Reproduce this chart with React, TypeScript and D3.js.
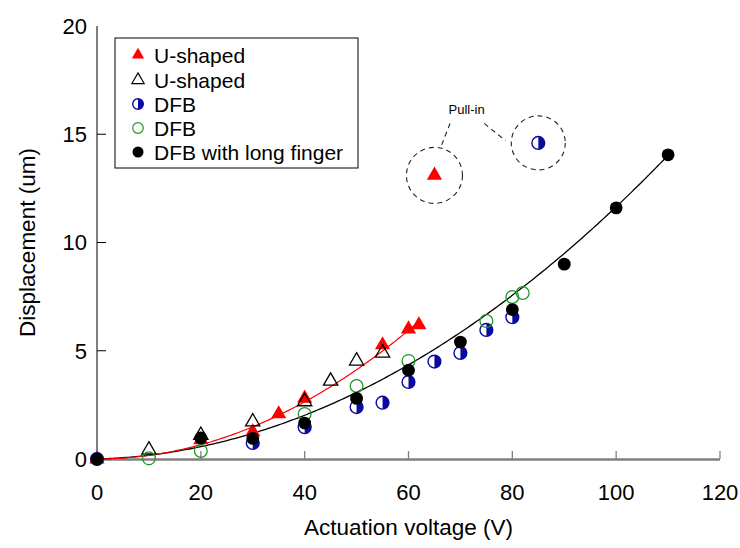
import React from "react";
import * as d3 from "d3";

// ---------- data ----------
const uShapedRedX = [0, 20, 30, 35, 40, 55, 60, 62];
const uShapedRedY = [0, 0.88, 1.25, 2.08, 2.8, 5.27, 6.0, 6.19];
const uShapedRedPullIn = [65, 13.1];

const uShapedOpenX = [10, 20, 30, 40, 45, 50, 55];
const uShapedOpenY = [0.42, 1.1, 1.72, 2.65, 3.6, 4.53, 4.9];

const dfbHalfX = [0, 30, 40, 50, 55, 60, 65, 70, 75, 80];
const dfbHalfY = [0, 0.74, 1.47, 2.4, 2.6, 3.56, 4.5, 4.9, 5.96, 6.55];
const dfbHalfPullIn = [85, 14.6];

const dfbOpenX = [10, 20, 40, 50, 60, 75, 80, 82];
const dfbOpenY = [0.03, 0.37, 2.08, 3.37, 4.53, 6.37, 7.48, 7.67];

const longFingerX = [0, 20, 30, 40, 50, 60, 70, 80, 90, 100, 110];
const longFingerY = [0, 0.97, 0.95, 1.66, 2.8, 4.1, 5.4, 6.9, 9.0, 11.6, 14.05];

// fitted curves: y = a*x^2 + b*x over [x0, x1]
const redFit = [0.00165, 0.0, 0, 62];
const blackFit = [0.0011, 0.0065, 0, 110];

const xTicks = [0, 20, 40, 60, 80, 100, 120];
const yTicks = [0, 5, 10, 15, 20];
const legendLabels = ["U-shaped", "U-shaped", "DFB", "DFB", "DFB with long finger"];

// pull-in annotation (data coords): label position, leader lines [x1,y1,x2,y2]
const pullInLabel = [71.2, 15.93];
const leader1 = [68.0, 15.5, 66.2, 14.4];
const leader2 = [74.6, 15.5, 78.7, 14.7];

const FONT = "'Liberation Sans', Arial, sans-serif";
const RED = "#ff0000";
const BLUE = "#0a0aa0";
const GREEN = "#22992a";

const W = 740;
const H = 548;
const x = d3.scaleLinear().domain([0, 120]).range([97, 720]);
const y = d3.scaleLinear().domain([0, 20]).range([459, 26]);

const tri = (size: number) => d3.symbol().type(d3.symbolTriangle).size(size)()!;

function HalfCircle({ cx, cy, r }: { cx: number; cy: number; r: number }) {
  const arc = d3.arc()({ innerRadius: 0, outerRadius: r, startAngle: 0, endAngle: Math.PI })!;
  return (
    <g transform={`translate(${cx},${cy})`}>
      <circle r={r} fill="white" stroke={BLUE} strokeWidth={1.4} />
      <path d={arc} fill={BLUE} />
    </g>
  );
}

function fitPath(f: number[]) {
  const [a, b, x0, x1] = f;
  const pts = d3.range(x0, x1 + 0.001, 0.5).map((v) => [v, a * v * v + b * v] as [number, number]);
  return d3
    .line<[number, number]>()
    .x((d) => x(d[0]))
    .y((d) => y(d[1]))
    .curve(d3.curveLinear)(pts)!;
}

export default function App() {
  const redTri = tri(100);
  const openTri = tri(88);
  const legTri = tri(66);
  const r = 6.4;

  const pairs = (xs: number[], ys: number[]) => xs.map((v, i) => [v, ys[i]]);

  // legend
  const lgX = 115, lgY = 38, lgW = 243, lgH = 130;
  const rowY = [55, 80, 104, 128, 152];

  const c1 = [x(uShapedRedPullIn[0]), y(uShapedRedPullIn[1])];
  const c2 = [x(dfbHalfPullIn[0]), y(dfbHalfPullIn[1])];

  return (
    <svg
      width={W}
      height={H}
      style={{ position: "absolute", left: 0, top: 0, background: "white" }}
      fontFamily={FONT}
    >
      <rect width={W} height={H} fill="white" />

      {/* axes */}
      <line x1={x(0)} x2={x(0)} y1={y(0)} y2={y(20)} stroke="black" strokeWidth={1} />
      {yTicks.map((t) => (
        <g key={"yt" + t}>
          {t > 0 && t < 20 && (
            <line x1={x(0)} x2={x(0) + 9} y1={y(t)} y2={y(t)} stroke="black" strokeWidth={1} />
          )}
          <text x={87} y={y(t)} dy="0.36em" textAnchor="end" fontSize={22}>
            {t}
          </text>
        </g>
      ))}
      <line x1={x(0)} x2={x(120)} y1={y(0) + 0.5} y2={y(0) + 0.5} stroke="#808080" strokeWidth={2.5} />
      {xTicks.map((t) => (
        <g key={"xt" + t}>
          {t > 0 && (
            <line x1={x(t)} x2={x(t)} y1={y(0)} y2={y(0) - 8} stroke="#808080" strokeWidth={1.3} />
          )}
          <text x={x(t)} y={500} textAnchor="middle" fontSize={22}>
            {t}
          </text>
        </g>
      ))}
      <text x={(x(0) + x(120)) / 2} y={535} textAnchor="middle" fontSize={22.5}>
        Actuation voltage (V)
      </text>
      <text
        transform={`translate(35,${(y(0) + y(20)) / 2}) rotate(-90)`}
        textAnchor="middle"
        fontSize={22.5}
      >
        Displacement (um)
      </text>

      {/* fit curves */}
      <path d={fitPath(blackFit)} fill="none" stroke="black" strokeWidth={1.3} />
      <path d={fitPath(redFit)} fill="none" stroke={RED} strokeWidth={1.2} />

      {/* markers */}
      {pairs(uShapedRedX, uShapedRedY).map(([a, b], i) => (
        <path key={"rt" + i} d={redTri} transform={`translate(${x(a)},${y(b)})`} fill={RED} />
      ))}
      {pairs(uShapedOpenX, uShapedOpenY).map(([a, b], i) => (
        <path
          key={"ot" + i}
          d={openTri}
          transform={`translate(${x(a)},${y(b)})`}
          fill="none"
          stroke="black"
          strokeWidth={1.3}
        />
      ))}
      {pairs(dfbHalfX, dfbHalfY).map(([a, b], i) => (
        <HalfCircle key={"hc" + i} cx={x(a)} cy={y(b)} r={r} />
      ))}
      {pairs(dfbOpenX, dfbOpenY).map(([a, b], i) => (
        <circle key={"gc" + i} cx={x(a)} cy={y(b)} r={r} fill="none" stroke={GREEN} strokeWidth={1.3} />
      ))}
      {pairs(longFingerX, longFingerY).map(([a, b], i) => (
        <circle key={"bc" + i} cx={x(a)} cy={y(b)} r={r} fill="black" />
      ))}

      {/* pull-in */}
      <path d={redTri} transform={`translate(${c1[0]},${c1[1]})`} fill={RED} />
      <HalfCircle cx={c2[0]} cy={c2[1]} r={r} />
      <circle cx={c1[0]} cy={c1[1]} r={28} fill="none" stroke="#222" strokeWidth={1.1} strokeDasharray="5,4" />
      <circle cx={c2[0]} cy={c2[1]} r={27} fill="none" stroke="#222" strokeWidth={1.1} strokeDasharray="5,4" />
      <line
        x1={x(leader1[0])}
        y1={y(leader1[1])}
        x2={x(leader1[2])}
        y2={y(leader1[3])}
        stroke="#222"
        strokeWidth={1.1}
        strokeDasharray="5,4"
      />
      <line
        x1={x(leader2[0])}
        y1={y(leader2[1])}
        x2={x(leader2[2])}
        y2={y(leader2[3])}
        stroke="#222"
        strokeWidth={1.1}
        strokeDasharray="5,4"
      />
      <text x={x(pullInLabel[0])} y={y(pullInLabel[1])} textAnchor="middle" fontSize={13}>
        Pull-in
      </text>

      {/* legend */}
      <rect x={lgX} y={lgY} width={lgW} height={lgH} fill="white" stroke="black" strokeWidth={1} />
      {legendLabels.map((lab, i) => {
        const my = rowY[i];
        const mx = 138;
        let mark;
        if (i === 0) mark = <path d={legTri} transform={`translate(${mx},${my})`} fill={RED} />;
        else if (i === 1)
          mark = (
            <path d={legTri} transform={`translate(${mx},${my})`} fill="none" stroke="black" strokeWidth={1.2} />
          );
        else if (i === 2) mark = <HalfCircle cx={mx} cy={my} r={5.3} />;
        else if (i === 3)
          mark = <circle cx={mx} cy={my} r={5.3} fill="none" stroke={GREEN} strokeWidth={1.2} />;
        else mark = <circle cx={mx} cy={my} r={5.5} fill="black" />;
        return (
          <g key={"lg" + i}>
            {mark}
            <text x={154} y={my} dy="0.36em" fontSize={21}>
              {lab}
            </text>
          </g>
        );
      })}
    </svg>
  );
}
